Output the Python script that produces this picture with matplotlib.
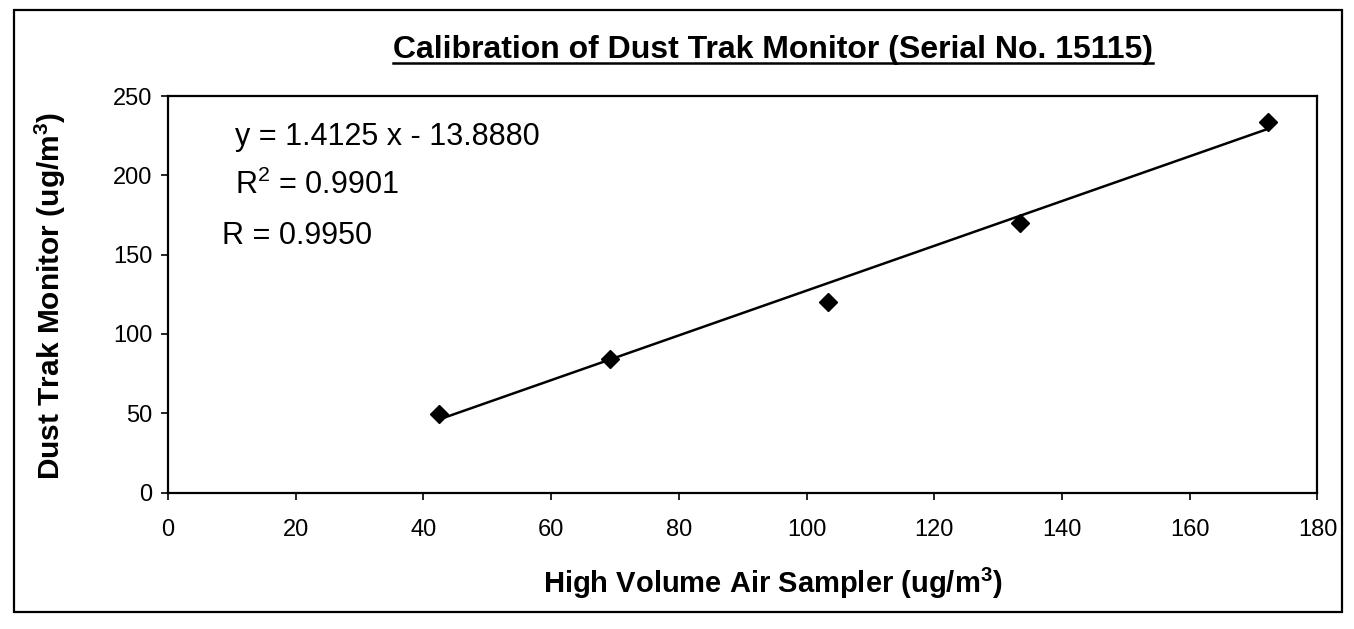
import matplotlib
matplotlib.use("Agg")
import matplotlib.pyplot as plt
import numpy as np
from matplotlib.patches import Rectangle
from matplotlib.lines import Line2D

plt.rcParams['font.family'] = ['Liberation Sans', 'DejaVu Sans']
plt.rcParams['mathtext.fontset'] = 'custom'
plt.rcParams['mathtext.rm'] = 'Liberation Sans'
plt.rcParams['mathtext.it'] = 'Liberation Sans:italic'
plt.rcParams['mathtext.bf'] = 'Liberation Sans:bold'

# Data
high_volume = [42.4, 69.2, 103.3, 133.5, 172.3]
dust_trak = [49.5, 84.5, 120.0, 170.0, 234.0]
slope = 1.4125
intercept = -13.8880
x_ticks = [0, 20, 40, 60, 80, 100, 120, 140, 160, 180]
y_ticks = [0, 50, 100, 150, 200, 250]
title = "Calibration of Dust Trak Monitor (Serial No. 15115)"
eq_lines = ["y = 1.4125 x - 13.8880", "R$^2$ = 0.9901", "R = 0.9950"]

fig = plt.figure(figsize=(13.54, 6.29), dpi=100)
ax = fig.add_axes([0.124, 0.217, 0.849, 0.630])

fit_x = np.array([min(high_volume), max(high_volume)])
ax.plot(fit_x, slope * fit_x + intercept, color='black', lw=1.8, zorder=2)
ax.plot(high_volume, dust_trak, linestyle='none', marker='D', markersize=9,
        color='black', zorder=3)

ax.set_xlim(0, 180)
ax.set_ylim(0, 250)
ax.set_xticks(x_ticks)
ax.set_yticks(y_ticks)
ax.tick_params(axis='both', direction='out', length=5, width=1.2,
               labelsize=17, colors='black')
ax.tick_params(axis='x', pad=14)
ax.tick_params(axis='y', pad=6)
for s in ax.spines.values():
    s.set_linewidth(1.6)
    s.set_color('black')

ax.set_xlabel("High Volume Air Sampler (ug/m$^\\mathbf{3}$)", fontsize=21,
              fontweight='bold')
ax.xaxis.set_label_coords(0.526, -0.185)
ax.set_ylabel("Dust Trak Monitor (ug/m$^\\mathbf{3}$)", fontsize=21.5,
              fontweight='bold')
ax.yaxis.set_label_coords(-0.087, 0.497)

ax.text(10.5, 219, eq_lines[0], fontsize=22, va='baseline', ha='left')
ax.text(10.5, 188.5, eq_lines[1], fontsize=22, va='baseline', ha='left')
ax.text(8.5, 157, eq_lines[2], fontsize=22, va='baseline', ha='left')

t = fig.text(0.571, 0.921, title, fontsize=23, fontweight='bold',
             ha='center', va='center')

# outer frame
fig.patches.append(Rectangle((0.010, 0.027), 0.981, 0.957, transform=fig.transFigure,
                             fill=False, edgecolor='black', lw=1.6))

# underline the title
fig.canvas.draw()
bb = t.get_window_extent(renderer=fig.canvas.get_renderer())
inv = fig.transFigure.inverted()
(x0, y0), (x1, y1) = inv.transform([[bb.x0, bb.y0], [bb.x1, bb.y1]])
fig.lines.append(Line2D([x0, x1], [y0 + 0.002, y0 + 0.002], transform=fig.transFigure,
                        color='black', lw=1.8))

fig.savefig("out.png", dpi=100, facecolor='white')
